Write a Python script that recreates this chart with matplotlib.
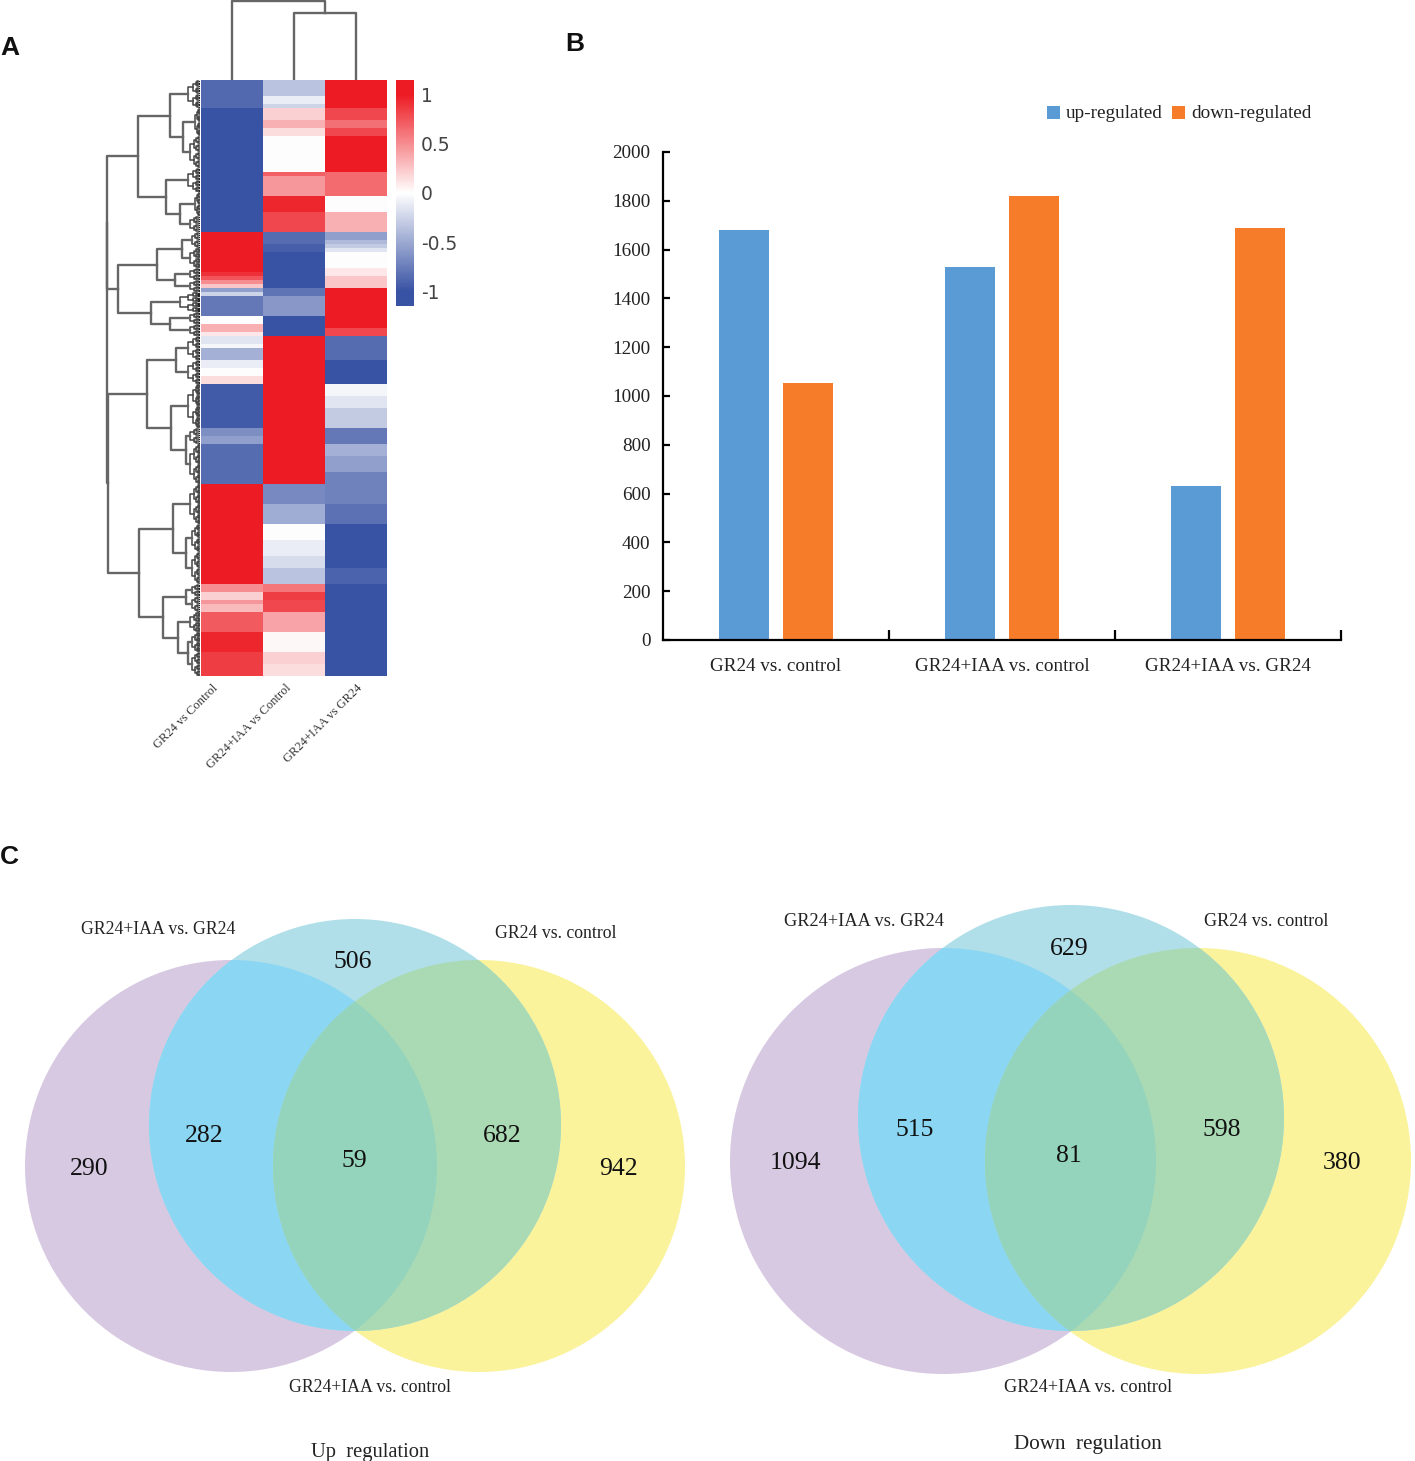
#!/usr/bin/env python3
import numpy as np
import matplotlib
matplotlib.use("Agg")
import matplotlib.pyplot as plt
from matplotlib.colors import LinearSegmentedColormap, Normalize
from matplotlib.patches import Circle, Rectangle

W, H = 1415, 1461
SERIF = "Liberation Serif"

# --- A: heatmap, (rows, value) runs per column ---
heat_cols = ["GR24 vs Control", "GR24+IAA vs Control", "GR24+IAA vs GR24"]
col1_runs = [(7, -0.87), (31, -1), (10, 1), (1, 0.9), (1, 0.75), (1, 0.5), (1, 0.25), (1, -0.55), (1, -0.25),
             (5, -0.78), (2, 0), (2, 0.35), (1, 0.1), (2, -0.15), (1, -0.05), (3, -0.45), (2, -0.1), (2, 0),
             (2, 0.15), (11, -0.95), (2, -0.65), (2, -0.55), (10, -0.85), (25, 1), (2, 0.5), (2, 0.2),
             (1, 0.45), (2, 0.3), (5, 0.72), (5, 0.95), (6, 0.85)]
col2_runs = [(4, -0.35), (2, -0.1), (1, -0.25), (3, 0.2), (2, 0.35), (2, 0.15), (9, 0), (1, 0.7),
             (5, 0.45), (4, 0.95), (5, 0.8), (3, -0.85), (2, -0.92), (9, -1), (2, -0.8), (5, -0.6), (5, -1),
             (37, 1), (5, -0.68), (5, -0.48), (4, 0), (4, -0.1), (3, -0.2), (4, -0.35), (2, 0.6),
             (2, 0.85), (3, 0.8), (5, 0.4), (5, 0.03), (3, 0.2), (3, 0.15)]
col3_runs = [(7, 1), (3, 0.8), (2, 0.62), (2, 0.8), (9, 1), (6, 0.65), (4, 0), (5, 0.35), (2, -0.55),
             (1, -0.4), (1, -0.3), (1, -0.15), (4, 0), (2, 0.1), (3, 0.25), (10, 1), (2, 0.8), (6, -0.85),
             (6, -1), (3, -0.05), (3, -0.15), (5, -0.3), (4, -0.78), (3, -0.45), (4, -0.55), (8, -0.72),
             (5, -0.82), (11, -1), (4, -0.9), (23, -1)]
cbar_ticks = [1, 0.5, 0, -0.5, -1]

# column tree: (height, left, right), leaves are column numbers
col_tree = (79, 0, (67, 1, 2))
# row tree: (distance, left, right); a leaf cluster is (distance, first_row, last_row)
row_tree = (93.5,
    (93, (62,
          (30, (12, 0, 7), (17, (5, 7, 14), (10, 14, 22))),
          (34, (12, 22, 28), (20, (5, 28, 34), (10, 34, 38)))),
     (82,
      (43, (18, (8, 38, 42), (10, 42, 47)), (25, (10, 47, 50), (10, 50, 53))),
      (49, (20, 53, 58), (30, (10, 58, 61), (10, 61, 64))))),
    (92,
     (53, (24, (12, 64, 70), (12, 70, 76)),
      (29, (12, 76, 87), (14, (10, 87, 91), (10, 91, 101)))),
     (61,
      (27, (10, 101, 111), (14, (8, 111, 118), (8, 118, 126))),
      (37, (14, (8, 126, 129), (8, 129, 133)),
       (22, (10, 133, 138), (12, (8, 138, 143), (8, 143, 149)))))))

# --- B: bars ---
bar_cats = ["GR24 vs. control", "GR24+IAA vs. control", "GR24+IAA vs. GR24"]
up_vals = [1680, 1530, 630]
down_vals = [1055, 1820, 1690]
bar_ticks = [0, 200, 400, 600, 800, 1000, 1200, 1400, 1600, 1800, 2000]

# --- C: venn counts: purple, purple+blue, centre, blue+yellow, yellow, blue ---
venn_up = [290, 282, 59, 682, 942, 506]
venn_down = [1094, 515, 81, 598, 380, 629]


def runs_to_col(runs):
    return np.array([v for n, v in runs for _ in range(n)], dtype=float)


def px_axes(x0, y0, x1, y1):
    # axes from pixel box of the reference
    return fig.add_axes([x0 / W, 1 - y1 / H, (x1 - x0) / W, (y1 - y0) / H])


def draw_leaves(ax, dist, a, b):
    # twigs of a leaf cluster, returns y of its joint
    if b - a <= 0.6:
        y = (a + b) / 2
        ax.plot([dist, 0], [y, y], color="#222222", lw=0.9, solid_capstyle="butt")
        return y
    m = (a + b) / 2
    d = dist * 0.6
    y1 = draw_leaves(ax, d, a, m)
    y2 = draw_leaves(ax, d, m, b)
    ax.plot([d, dist, dist, d], [y1, y1, y2, y2], color="#444444", lw=1.1)
    return (y1 + y2) / 2


def draw_row_tree(ax, node):
    dist, left, right = node
    if isinstance(left, int):
        return draw_leaves(ax, dist, left, right), dist
    y1, d1 = draw_row_tree(ax, left)
    y2, d2 = draw_row_tree(ax, right)
    ax.plot([d1, dist, dist, d2], [y1, y1, y2, y2], color="#666666", lw=1.7)
    return (y1 + y2) / 2, dist


def draw_col_tree(ax, node):
    if isinstance(node, int):
        return node + 0.5, 0
    h, left, right = node
    x1, h1 = draw_col_tree(ax, left)
    x2, h2 = draw_col_tree(ax, right)
    ax.plot([x1, x1, x2, x2], [h1, h, h, h2], color="#666666", lw=1.7)
    return (x1 + x2) / 2, h


def draw_venn(ax, purple, blue, yellow, counts, spots):
    pc = Circle(purple[:2], purple[2], fc="#d8c9e3", ec="none")
    yc = Circle(yellow[:2], yellow[2], fc="#faf39b", ec="none")
    bc = Circle(blue[:2], blue[2], fc="#b0dfe9", ec="none")
    for c in (pc, yc, bc):
        ax.add_patch(c)
    a = Circle(blue[:2], blue[2], fc="#8bd6f3", ec="none")
    ax.add_patch(a)
    a.set_clip_path(Circle(purple[:2], purple[2], transform=ax.transData))
    b = Circle(blue[:2], blue[2], fc="#aadab4", ec="none")
    ax.add_patch(b)
    b.set_clip_path(Circle(yellow[:2], yellow[2], transform=ax.transData))
    c = Circle(purple[:2], purple[2], fc="#95d4bc", ec="none")
    ax.add_patch(c)
    c.set_clip_path(Circle(yellow[:2], yellow[2], transform=ax.transData))
    for n, (x, y) in zip(counts, spots):
        ax.text(x, y, str(n), family=SERIF, fontsize=18.5, color="#111111", ha="center", va="center")


fig = plt.figure(figsize=(W / 100, H / 100), dpi=100)

# overlay in reference pixels, for venns and free text
ov = fig.add_axes([0, 0, 1, 1])
ov.set_xlim(0, W)
ov.set_ylim(H, 0)
ov.axis("off")

# heatmap
cmap = LinearSegmentedColormap.from_list("heat", [(0, "#3953a4"), (0.15 / 2.3, "#3953a4"), (0.5, "#ffffff"),
                                                  (2.15 / 2.3, "#ed1c24"), (1, "#ed1c24")])
norm = Normalize(-1.15, 1.15)
heat = np.column_stack([runs_to_col(col1_runs), runs_to_col(col2_runs), runs_to_col(col3_runs)])
n_rows = heat.shape[0]

ax_h = px_axes(201, 80, 387, 676)
im = ax_h.imshow(heat, cmap=cmap, norm=norm, aspect="auto", interpolation="nearest",
                 extent=[0, 3, n_rows, 0])
ax_h.axis("off")

ax_rd = px_axes(100, 80, 200, 676)
draw_row_tree(ax_rd, row_tree)
ax_rd.set_xlim(100, 0)
ax_rd.set_ylim(n_rows, 0)
ax_rd.axis("off")

ax_cd = px_axes(201, 0, 387, 80)
draw_col_tree(ax_cd, col_tree)
ax_cd.set_xlim(0, 3)
ax_cd.set_ylim(0, 80)
ax_cd.axis("off")

cax = px_axes(396, 80, 414, 306)
cb = fig.colorbar(im, cax=cax, ticks=cbar_ticks)
cb.outline.set_visible(False)
cb.ax.tick_params(length=0, pad=5, labelsize=13.5, labelcolor="#444444")
cb.ax.set_yticklabels([str(t) for t in cbar_ticks])

for name, x in zip(heat_cols, [212, 285, 356]):
    ov.text(x, 682, name, family=SERIF, fontsize=9, color="#333333", rotation=45,
            rotation_mode="anchor", ha="right", va="top")

# bars
ax_b = px_axes(663, 152, 1341, 640)
pos = np.arange(3)
ax_b.bar(pos - 0.1416, up_vals, 0.224, color="#5b9bd5", label="up-regulated")
ax_b.bar(pos + 0.1416, down_vals, 0.224, color="#f67c2a", label="down-regulated")
ax_b.set_xlim(-0.5, 2.5)
ax_b.set_ylim(0, 2000)
ax_b.set_yticks(bar_ticks)
ax_b.set_xticks(pos + 0.5)
ax_b.set_xticklabels([])
ax_b.set_xticks(pos, labels=bar_cats, minor=True)
ax_b.tick_params(axis="x", which="major", direction="in", length=7, width=1.6)
ax_b.tick_params(axis="x", which="minor", length=0, pad=13)
ax_b.tick_params(axis="y", direction="in", length=5, width=1.6, pad=9)
for lab in ax_b.get_xticklabels(minor=True) + ax_b.get_yticklabels():
    lab.set_family(SERIF)
    lab.set_fontsize(13.8)
    lab.set_color("#222222")
for lab in ax_b.get_yticklabels():
    lab.set_verticalalignment("center_baseline")
for s in ("top", "right"):
    ax_b.spines[s].set_visible(False)
for s in ("left", "bottom"):
    ax_b.spines[s].set_linewidth(1.6)

for color, lab, xs, xt in [("#5b9bd5", "up-regulated", 1047, 1066), ("#f67c2a", "down-regulated", 1172, 1191)]:
    ov.add_patch(Rectangle((xs, 106), 13, 13, fc=color, ec="none"))
    ov.text(xt, 114, lab, family=SERIF, fontsize=13.8, color="#222222", va="center")

# venns
draw_venn(ov, (231, 1166, 206), (355, 1125, 206), (479, 1166, 206), venn_up,
          [(89, 1169), (204, 1136), (354, 1161), (502, 1136), (618, 1169), (353, 962)])
draw_venn(ov, (943, 1161, 213), (1071, 1118, 213), (1198, 1161, 213), venn_down,
          [(795, 1163), (915, 1130), (1069, 1156), (1222, 1130), (1342, 1163), (1069, 949)])

for x, y, s, fs in [(81, 930, "GR24+IAA vs. GR24", 12.8), (495, 934, "GR24 vs. control", 12.8),
                    (289, 1387, "GR24+IAA vs. control", 12.8), (784, 921, "GR24+IAA vs. GR24", 13.2),
                    (1204, 921, "GR24 vs. control", 13.1), (1004, 1388, "GR24+IAA vs. control", 13.2)]:
    ov.text(x, y, s, family=SERIF, fontsize=fs, color="#222222", va="center")
ov.text(311, 1452, "Up  regulation", family=SERIF, fontsize=14.8, color="#222222", va="center")
ov.text(1014, 1444, "Down  regulation", family=SERIF, fontsize=15.2, color="#222222", va="center")

for x, y, s in [(0, 48, "A"), (565, 44, "B"), (0, 857, "C")]:
    ov.text(x, y, s, family="Liberation Sans", fontsize=19, fontweight="bold", color="#111111", va="center")

fig.savefig("out.png", dpi=100)
